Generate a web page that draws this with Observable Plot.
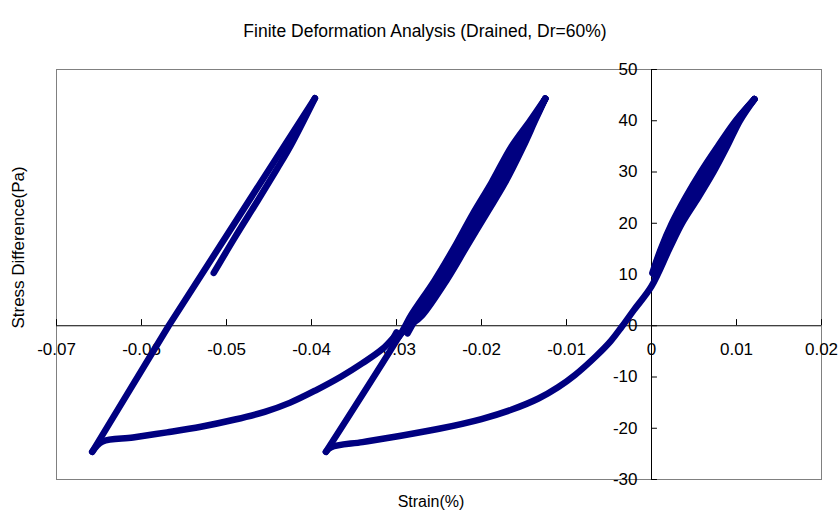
<!DOCTYPE html>
<html>
<head>
<meta charset="utf-8">
<script src="https://cdn.jsdelivr.net/npm/d3@7"></script>
<script src="https://cdn.jsdelivr.net/npm/@observablehq/plot@0.6"></script>
<style>
  html, body { margin: 0; padding: 0; background: white; }
</style>
</head>
<body>
<div id="chart"></div>
<script>
// ---- data (strain in %, stress difference in Pa) ----
const titleText = "Finite Deformation Analysis (Drained, Dr=60%)";
const xLabel = "Strain(%)";
const yLabel = "Stress Difference(Pa)";

const xTicks = [-0.07, -0.06, -0.05, -0.04, -0.03, -0.02, -0.01, 0, 0.01, 0.02];
const xTickLabels = ["-0.07", "-0.06", "-0.05", "-0.04", "-0.03", "-0.02", "-0.01", "0", "0.01", "0.02"];
const yTicks = [-30, -20, -10, 0, 10, 20, 30, 40, 50];
const yTickLabels = ["-30", "-20", "-10", "0", "10", "20", "30", "40", "50"];

// first loading (left loop)
const load1 = [[-0.0515, 10.3], [-0.0491, 17.0], [-0.0463, 24.5], [-0.0441, 30.5], [-0.0425, 35.0], [-0.0396, 44.4]];
// unloading 1 (straight)
const unload1 = [[-0.0396, 44.4], [-0.0568, 0.0], [-0.0658, -24.6]];
// reloading 1: lower curve
const reload1a = [[-0.0658, -24.6], [-0.0646, -22.6], [-0.0610, -21.8], [-0.0570, -20.8], [-0.0530, -19.7],
  [-0.0490, -18.3], [-0.0455, -16.8], [-0.0425, -15.0], [-0.0395, -12.6], [-0.0365, -9.9],
  [-0.0340, -7.3], [-0.0317, -4.6], [-0.0303, -2.2]];
// reloading 1: small jagged step near zero
const reload1b = [[-0.0303, -2.2], [-0.0300, -1.3], [-0.0297, -2.1], [-0.0290, -0.6], [-0.0287, -1.5], [-0.0280, 0.6]];
// reloading 1: upper part (right edge of middle band)
const reload1c = [[-0.0280, 0.6], [-0.0270, 2.0], [-0.0241, 8.9], [-0.0219, 15.0], [-0.0194, 21.9],
  [-0.0172, 28.0], [-0.0151, 34.9], [-0.0137, 40.0], [-0.0125, 44.3]];
// repeated cycles inside the middle band
const band2a = [[-0.0125, 44.3], [-0.0138, 40.0], [-0.0154, 34.9], [-0.0176, 28.0], [-0.0198, 21.9], [-0.0223, 15.0], [-0.0245, 8.9], [-0.0274, 2.0], [-0.0285, -0.5]];
const band2b = [[-0.0125, 44.3], [-0.0139, 40.0], [-0.0157, 34.9], [-0.0180, 28.0], [-0.0202, 21.9], [-0.0226, 15.0], [-0.0248, 8.9], [-0.0277, 2.0], [-0.0288, -0.8]];
const band2c = [[-0.0125, 44.3], [-0.0141, 40.0], [-0.0161, 34.9], [-0.0184, 28.0], [-0.0206, 21.9], [-0.0229, 15.0], [-0.0251, 8.9], [-0.0280, 2.0], [-0.0290, -0.9]];
// unloading 2 (left edge of middle band, then straight down)
const unload2 = [[-0.0125, 44.3], [-0.0143, 40.0], [-0.0165, 34.9], [-0.0188, 28.0], [-0.0210, 21.9], [-0.0233, 15.0], [-0.0255, 8.9], [-0.0283, 2.0], [-0.0293, -1.0], [-0.0383, -24.6]];
// reloading 2
const reload2 = [[-0.0383, -24.6], [-0.0377, -23.7], [-0.0340, -22.7], [-0.0300, -21.6], [-0.0250, -20.1],
  [-0.0200, -18.2], [-0.0165, -16.4], [-0.0133, -14.2], [-0.0110, -12.0], [-0.0090, -9.6],
  [-0.0065, -5.9], [-0.0048, -3.0], [-0.0035, -0.2], [-0.0021, 3.0], [0.0000, 7.7], [0.0021, 15.0],
  [0.0036, 20.0], [0.0055, 25.0], [0.0073, 30.0], [0.0089, 35.0], [0.0104, 40.0], [0.0121, 44.2]];
// repeated cycles inside the right band
const band3a = [[0.0121, 44.2], [0.0102, 40.0], [0.0085, 35.0], [0.0069, 30.0], [0.0051, 25.0], [0.0033, 20.0], [0.0017, 15.0], [0.0004, 9.8]];
const band3b = [[0.0121, 44.2], [0.0101, 40.0], [0.0082, 35.0], [0.0065, 30.0], [0.0047, 25.0], [0.0030, 20.0], [0.0014, 15.0], [0.0003, 10.0]];
const band3c = [[0.0121, 44.2], [0.0100, 40.0], [0.0080, 35.0], [0.0061, 30.0], [0.0044, 25.0], [0.0027, 20.0], [0.0012, 15.0], [0.0002, 10.2]];
// final unloading (left edge of right band)
const unload3 = [[0.0121, 44.2], [0.0099, 40.0], [0.0078, 35.0], [0.0058, 30.0], [0.0040, 25.0], [0.0024, 20.0], [0.0011, 15.0], [0.0001, 10.3]];

const smoothSegments = [load1, reload1a, reload1c, band2a, band2b, band2c, unload2, reload2, band3a, band3b, band3c, unload3];
const straightSegments = [unload1, reload1b];

const navy = "#000080";
const font = "'Liberation Sans', Arial, Helvetica, sans-serif";

const lineStyle = {
  x: d => d[0], y: d => d[1], stroke: navy, strokeWidth: 6.5,
  strokeLinejoin: "round", strokeLinecap: "round"
};
const lineMarks = [
  ...straightSegments.map(seg => Plot.line(seg, { ...lineStyle, curve: "linear" })),
  ...smoothSegments.map(seg => Plot.line(seg, { ...lineStyle, curve: "catmull-rom" }))
];

const chart = Plot.plot({
  width: 838,
  height: 521,
  marginLeft: 56,
  marginRight: 17,
  marginTop: 69,
  marginBottom: 42,
  style: { fontFamily: font, background: "white", color: "black" },
  x: { domain: [-0.07, 0.02], axis: null },
  y: { domain: [-30, 50], axis: null },
  marks: [
    Plot.frame({ stroke: "#808080" }),
    Plot.ruleY([0], { stroke: "black" }),
    Plot.ruleX([0], { stroke: "black" }),
    Plot.ruleX(xTicks, { x: d => d, y1: 0, y2: 1.2, stroke: "black" }),
    Plot.ruleY(yTicks, { y: d => d, x1: 0, x2: 0.0007, stroke: "black" }),
    Plot.text(xTicks, { x: d => d, y: 0, dy: 24, text: (d, i) => xTickLabels[i], fontSize: 17, fill: "black", textAnchor: "middle" }),
    Plot.text(yTicks, { x: 0, y: d => d, dx: -14, text: (d, i) => yTickLabels[i], fontSize: 17, fill: "black", textAnchor: "end" }),
    Plot.text([titleText], { frameAnchor: "top", dx: -14, dy: -45, text: d => d, fontSize: 17.5, fill: "black", textAnchor: "middle" }),
    Plot.text([xLabel], { frameAnchor: "bottom", dx: -8, dy: 27, text: d => d, fontSize: 16, fill: "black", textAnchor: "middle" }),
    Plot.text([yLabel], { frameAnchor: "left", dx: -38, dy: -27, rotate: -90, text: d => d, fontSize: 17, fill: "black", textAnchor: "middle" }),
    ...lineMarks
  ]
});

document.getElementById("chart").appendChild(chart);
</script>
</body>
</html>
